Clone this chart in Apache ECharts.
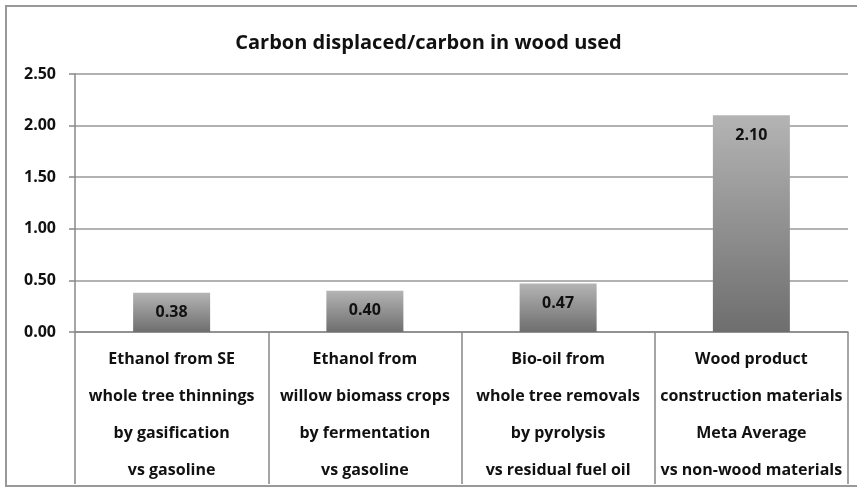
<!DOCTYPE html>
<html><head><meta charset="utf-8">
<script src="https://cdn.jsdelivr.net/npm/echarts@6/dist/echarts.min.js"></script>
<style>html,body{margin:0;padding:0;background:#fff}#c{width:857px;height:489px}</style>
</head><body><div id="c"></div>
<script>
const title = 'Carbon displaced/carbon in wood used';
const categories = [
  'Ethanol from SE\nwhole tree thinnings\nby gasification\nvs gasoline',
  'Ethanol from\nwillow biomass crops\nby fermentation\nvs gasoline',
  'Bio-oil from\nwhole tree removals\nby pyrolysis\nvs residual fuel oil',
  'Wood product\nconstruction materials\nMeta Average\nvs non-wood materials'
];
const values = [0.38, 0.40, 0.47, 2.10];
const yTicks = [0, 0.5, 1.0, 1.5, 2.0, 2.5];

const FONT = 'Open Sans';
const chart = echarts.init(document.getElementById('c'), null, {renderer: 'canvas'});
chart.setOption({
  animation: false,
  backgroundColor: '#fff',
  title: {
    text: title, left: 'center', top: 28,
    textStyle: {fontFamily: FONT, fontWeight: 'bold', fontSize: 20, color: '#111'}
  },
  graphic: [{
    type: 'rect', shape: {x: 6, y: 6, width: 860, height: 480},
    style: {fill: 'none', stroke: '#999', lineWidth: 2}, silent: true
  }],
  grid: {left: 75, right: 9, top: 74, bottom: 157, outerBoundsMode: 'none', containLabel: false},
  xAxis: {
    type: 'category', data: categories,
    axisLine: {show: true, lineStyle: {color: '#888', width: 1.5}},
    axisTick: {show: true, alignWithLabel: false, interval: 0, length: 152, lineStyle: {color: '#888', width: 1.5}},
    axisLabel: {
      interval: 0, margin: 9, lineHeight: 37,
      fontFamily: FONT, fontWeight: 'bold', fontSize: 16, color: '#111'
    }
  },
  yAxis: {
    type: 'value', min: 0, max: 2.5, interval: 0.5,
    axisLine: {show: true, lineStyle: {color: '#888', width: 1.5}},
    axisTick: {show: true, length: 6, lineStyle: {color: '#888', width: 1.5}},
    splitLine: {show: true, lineStyle: {color: '#999', width: 1.5}},
    axisLabel: {
      margin: 19, fontFamily: FONT, fontWeight: 'bold', fontSize: 16, color: '#111',
      formatter: v => yTicks.includes(v) ? v.toFixed(2) : ''
    }
  },
  series: [{
    type: 'bar', data: values, barWidth: 77,
    itemStyle: {
      color: new echarts.graphic.LinearGradient(0, 0, 0, 1, [
        {offset: 0, color: '#b4b4b4'}, {offset: 1, color: '#6e6e6e'}
      ])
    },
    label: {
      show: true, position: 'insideTop', distance: 12,
      formatter: p => p.value.toFixed(2),
      fontFamily: FONT, fontWeight: 'bold', fontSize: 16, color: '#111'
    }
  }]
});
</script></body></html>
